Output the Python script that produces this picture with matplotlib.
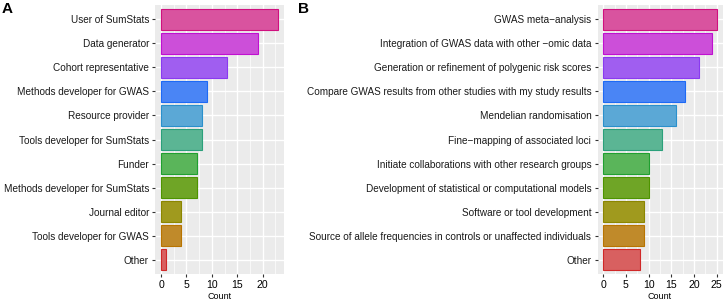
import matplotlib
matplotlib.use('Agg')
import matplotlib.pyplot as plt
import numpy as np
from matplotlib.ticker import MultipleLocator

plt.rcParams['font.family'] = ['Liberation Sans', 'DejaVu Sans']

# Panel A: roles
roles = ['User of SumStats', 'Data generator', 'Cohort representative',
         'Methods developer for GWAS', 'Resource provider',
         'Tools developer for SumStats', 'Funder', 'Methods developer for SumStats',
         'Journal editor', 'Tools developer for GWAS', 'Other']
role_counts = [23, 19, 13, 9, 8, 8, 7, 7, 4, 4, 1]

# Panel B: uses
uses = ['GWAS meta\u2212analysis', 'Integration of GWAS data with other \u2212omic data',
        'Generation or refinement of polygenic risk scores',
        'Compare GWAS results from other studies with my study results',
        'Mendelian randomisation', 'Fine\u2212mapping of associated loci',
        'Initiate collaborations with other research groups',
        'Development of statistical or computational models',
        'Software or tool development',
        'Source of allele frequencies in controls or unaffected individuals', 'Other']
use_counts = [25, 24, 21, 18, 16, 13, 10, 10, 9, 9, 8]

# fill / outline colours, top to bottom
fills = ['#D9539F', '#CC4FD9', '#A05EF0', '#4A85F5', '#5BA8D6', '#5BB594',
         '#5AB55A', '#6FA526', '#A09A1E', '#C08A2A', '#D86060']
edges = ['#D0107F', '#C010D0', '#8A3AF0', '#1E6AF5', '#2A90CC', '#2AA07A',
         '#20A030', '#4E9400', '#8C8600', '#B87400', '#D02828']

fig = plt.figure(figsize=(7.24, 3.01), dpi=100)
W, H = 724, 301


def panel(x0, x1, labels, counts, letter, lx):
    ax = fig.add_axes([x0 / W, (H - 274) / H, (x1 - x0) / W, 269 / H])
    n = len(labels)
    y = np.arange(n)[::-1]
    ax.set_facecolor('#EBEBEB')
    ax.barh(y, counts, height=0.9, color=fills, edgecolor=edges, linewidth=0.8,
            zorder=3)
    mx = max(counts)
    ax.set_xlim(-0.05 * mx, mx * 1.05)
    ax.set_ylim(-0.6, n - 0.4)
    ax.xaxis.set_major_locator(MultipleLocator(5))
    ax.xaxis.set_minor_locator(MultipleLocator(2.5))
    ax.set_yticks(y)
    ax.set_yticklabels(labels, fontsize=7.2, color='#1A1A1A')
    ax.grid(which='major', color='white', linewidth=1.0, zorder=0)
    ax.grid(which='minor', axis='x', color='white', linewidth=0.5, zorder=0)
    ax.tick_params(which='major', length=2.5, width=0.8, color='#333333',
                   labelsize=7.6, pad=2)
    ax.tick_params(axis='y', labelsize=7.2, pad=2)
    ax.tick_params(which='minor', length=0)
    for s in ax.spines.values():
        s.set_visible(False)
    ax.set_xlabel('Count', fontsize=6.5, labelpad=1.5)
    ax.set_axisbelow(True)
    fig.text(lx / W, 1 - 2 / H, letter, fontsize=11, fontweight='bold',
             ha='left', va='top')
    return ax


panel(155.2, 283.7, roles, role_counts, 'A', 2)
panel(597.6, 722.5, uses, use_counts, 'B', 298)

fig.savefig('out.png', dpi=100)
